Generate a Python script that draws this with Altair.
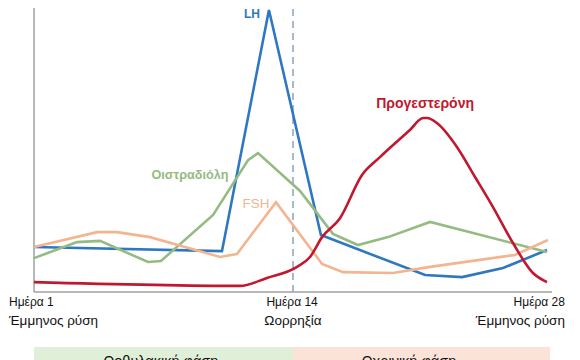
import altair as alt
import pandas as pd

FONT = "Liberation Sans"

# ---- data (day position, relative level) ----
lh_day = [0, 10.16, 12.70, 15.51, 21.14, 23.14, 25.35, 27.73]
lh_val = [15.4, 14.0, 96.6, 19.5, 5.8, 5.1, 8.2, 14.4]

e2_day = [0, 2.32, 3.57, 6.16, 6.86, 9.68, 11.57, 12.11, 14.38, 16.16, 17.51, 19.14, 21.41, 27.73]
e2_val = [11.6, 17.1, 17.5, 10.3, 10.6, 26.4, 45.2, 47.6, 34.6, 19.9, 16.1, 18.8, 24.0, 13.7]

fsh_day = [0, 3.41, 4.49, 6.27, 8.97, 10.05, 10.97, 13.08, 15.57, 16.70, 19.41, 21.41, 26.0, 27.78]
fsh_val = [15.4, 20.5, 20.5, 18.8, 14.0, 12.0, 13.0, 30.8, 9.6, 6.8, 6.5, 8.6, 12.7, 17.8]

prog_day = [0, 11.14, 12.59, 14.22, 14.92, 15.57, 16.54, 17.73, 18.70, 20.32, 21.03, 21.24,
            21.78, 22.86, 23.84, 24.81, 25.89, 26.97, 27.73]
prog_val = [3.4, 2.1, 4.8, 8.6, 12.0, 18.8, 25.3, 40.1, 46.2, 55.5, 59.6, 59.6,
            57.9, 49.7, 39.4, 29.1, 16.8, 6.5, 3.4]

series_names = ["LH", "Οιστραδιόλη", "FSH", "Προγεστερόνη"]
series_colors = ["#2f78c0", "#94bb82", "#f2b590", "#c0182e"]
label_colors = ["#2f78c0", "#9dbb8d", "#efb896", "#b8323f"]
label_day = [11.78, 8.43, 12.0, 21.14]
label_val = [95.2, 40.0, 30.1, 64.3]

ovulation_day = 14.0
phase_names = ["Ωοθυλακική φάση", "Ωχρινική φάση"]
phase_start = [0.0, 14.0]
phase_end = [14.0, 27.9]
phase_colors = ["#e0f0d8", "#fce3d8"]

day_labels = ["Ημέρα 1", "Ημέρα 14", "Ημέρα 28"]
event_labels = ["Έμμηνος ρύση", "Ωορρηξία", "Έμμηνος ρύση"]

rows = []
for name, days, vals in zip(series_names, [lh_day, e2_day, fsh_day, prog_day],
                            [lh_val, e2_val, fsh_val, prog_val]):
    for i, (d, v) in enumerate(zip(days, vals)):
        rows.append({"series": name, "day": d, "val": v, "idx": i})
df = pd.DataFrame(rows)

H = 284
YMAX = 97.3

xs = alt.Scale(domain=[0, 28], nice=False, zero=False)
ys = alt.Scale(domain=[0, YMAX], nice=False, zero=False)
color_scale = alt.Scale(domain=series_names, range=series_colors)
label_scale = alt.Scale(domain=series_names, range=label_colors)


def X(f):
    return alt.X(f, type="quantitative", scale=xs, axis=None)


def Y(f):
    return alt.Y(f, type="quantitative", scale=ys, axis=None)


lines_lin = alt.Chart(df[df.series != "Προγεστερόνη"].reset_index(drop=True)).mark_line(
    strokeWidth=2.6
).encode(
    x=X("day"), y=Y("val"),
    color=alt.Color("series:N", scale=color_scale, legend=None),
    detail="series:N",
    order="idx:Q",
)
line_prog = alt.Chart(df[df.series == "Προγεστερόνη"].reset_index(drop=True)).mark_line(
    strokeWidth=2.6, interpolate="monotone"
).encode(
    x=X("day"), y=Y("val"),
    color=alt.Color("series:N", scale=color_scale, legend=None),
    order="idx:Q",
)

rules_df = pd.DataFrame({
    "x1": [0.0, 0.0], "x2": [0.0, 28.0], "y1": [0.0, 0.0], "y2": [YMAX, 0.0]
})
axes_lines = alt.Chart(rules_df).mark_rule(color="#a0a0a0", strokeWidth=1.5).encode(
    x=X("x1"), x2="x2:Q", y=Y("y1"), y2="y2:Q"
)
ovu = alt.Chart(pd.DataFrame({"d": [ovulation_day], "y1": [0.0], "y2": [YMAX]})).mark_rule(
    color="#a9b9cc", strokeWidth=2, strokeDash=[7, 5]
).encode(x=X("d"), y=Y("y1"), y2="y2:Q")

lab_df = pd.DataFrame({"series": series_names, "day": label_day, "val": label_val})
labels_bold = alt.Chart(lab_df[lab_df.series != "FSH"].reset_index(drop=True)).mark_text(
    font=FONT, fontWeight="bold"
).encode(x=X("day"), y=Y("val"), text="series:N",
         color=alt.Color("series:N", scale=label_scale, legend=None),
         size=alt.Size("series:N", scale=alt.Scale(domain=series_names, range=[12, 14, 14, 14]),
                       legend=None))
labels_norm = alt.Chart(lab_df[lab_df.series == "FSH"].reset_index(drop=True)).mark_text(
    font=FONT, fontSize=13.5
).encode(x=X("day"), y=Y("val"), text="series:N",
         color=alt.Color("series:N", scale=label_scale, legend=None))


def pos_to_val(page_y):
    return (292 - page_y) * YMAX / H


ann = pd.DataFrame({
    "t": day_labels + event_labels,
    "x": [-1.35, 13.95, 28.7, -1.35, 14.0, 28.7],
    "y": [pos_to_val(302)] * 3 + [pos_to_val(321)] * 3,
    "sz": [12, 12, 12, 13.5, 13.5, 13.5],
    "al": ["left", "center", "right"] * 2,
})
ann_charts = []
for al in ["left", "center", "right"]:
    sub = ann[ann.al == al].reset_index(drop=True)
    ann_charts.append(
        alt.Chart(sub).mark_text(font=FONT, align=al, baseline="middle", color="#111111").encode(
            x=X("x"), y=Y("y"), text="t:N",
            size=alt.Size("sz:Q", scale=None, legend=None),
        )
    )

band_df = pd.DataFrame({"name": phase_names, "s": phase_start, "e": phase_end, "c": phase_colors,
                        "yt": [pos_to_val(347)] * 2, "yb": [pos_to_val(400)] * 2,
                        "tx": [6.86, 20.27], "ty": [pos_to_val(362)] * 2})
bands = alt.Chart(band_df).mark_rect().encode(
    x=X("s"), x2="e:Q", y=Y("yt"), y2="yb:Q",
    fill=alt.Fill("c:N", scale=None, legend=None),
)
band_text = alt.Chart(band_df).mark_text(font=FONT, fontSize=14.5, baseline="middle", color="#111111").encode(
    x=X("tx"), y=Y("ty"), text="name:N"
)

chart = alt.layer(
    bands, band_text, ovu, axes_lines, lines_lin, line_prog, labels_bold, labels_norm, *ann_charts
).properties(
    width=518, height=H,
    autosize=alt.AutoSizeParams(type="none"),
    padding={"left": 26, "top": 0, "right": 20, "bottom": 68},
).configure_view(strokeWidth=0)

chart.save("out.html", embed_options={"renderer": "svg", "actions": False})
